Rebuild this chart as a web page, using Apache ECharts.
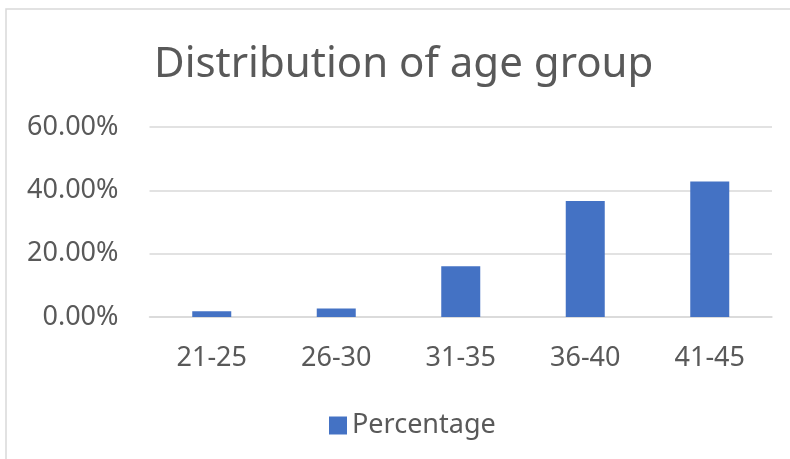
<!DOCTYPE html>
<html>
<head>
<meta charset="utf-8">
<title>Distribution of age group</title>
<script src="https://cdn.jsdelivr.net/npm/echarts@6/dist/echarts.min.js"></script>
<style>
  html, body { margin: 0; padding: 0; background: #ffffff; }
  #chart { width: 790px; height: 459px; }
</style>
</head>
<body>
<div id="chart"></div>
<script>
// Age groups and the share of respondents in each
const categories = ['21-25', '26-30', '31-35', '36-40', '41-45'];
const percentage = [0.018, 0.027, 0.160, 0.366, 0.428];
const yTicks = [0, 0.2, 0.4, 0.6];

const textColor = '#595959';
const fontFamily = '"Noto Sans", "Open Sans", sans-serif';

const chart = echarts.init(document.getElementById('chart'), null, { renderer: 'canvas' });

chart.setOption({
  animation: false,
  backgroundColor: '#ffffff',
  graphic: [{
    type: 'rect',
    shape: { x: 6, y: 9, width: 800, height: 470 },
    style: { fill: 'none', stroke: '#d9d9d9', lineWidth: 1.5 },
    silent: true
  }],
  title: {
    text: 'Distribution of age group',
    left: 149,
    top: 39,
    textStyle: { color: textColor, fontSize: 42, fontWeight: 'normal', fontFamily: fontFamily }
  },
  legend: {
    data: ['Percentage'],
    left: 324,
    top: 407,
    itemWidth: 18,
    itemHeight: 18,
    itemGap: 10,
    icon: 'rect',
    textStyle: { color: textColor, fontSize: 27, fontFamily: fontFamily, padding: [0, 0, 0, 0] }
  },
  grid: { left: 149.5, right: 18, top: 127, bottom: 142, containLabel: false },
  xAxis: {
    type: 'category',
    data: categories,
    axisLine: { lineStyle: { color: '#d9d9d9', width: 1.5 } },
    axisTick: { show: false },
    axisLabel: { color: textColor, fontSize: 27, fontFamily: fontFamily, margin: 28 }
  },
  yAxis: {
    type: 'value',
    min: 0,
    max: yTicks[yTicks.length - 1],
    interval: yTicks[1] - yTicks[0],
    axisLine: { show: false },
    axisTick: { show: false },
    splitLine: { lineStyle: { color: '#d9d9d9', width: 1.5 } },
    axisLabel: {
      color: textColor, fontSize: 27, fontFamily: fontFamily, margin: 31,
      formatter: v => (v * 100).toFixed(2) + '%'
    }
  },
  series: [{
    name: 'Percentage',
    type: 'bar',
    data: percentage,
    barWidth: 39,
    itemStyle: { color: '#4472c4' }
  }]
});
</script>
</body>
</html>
